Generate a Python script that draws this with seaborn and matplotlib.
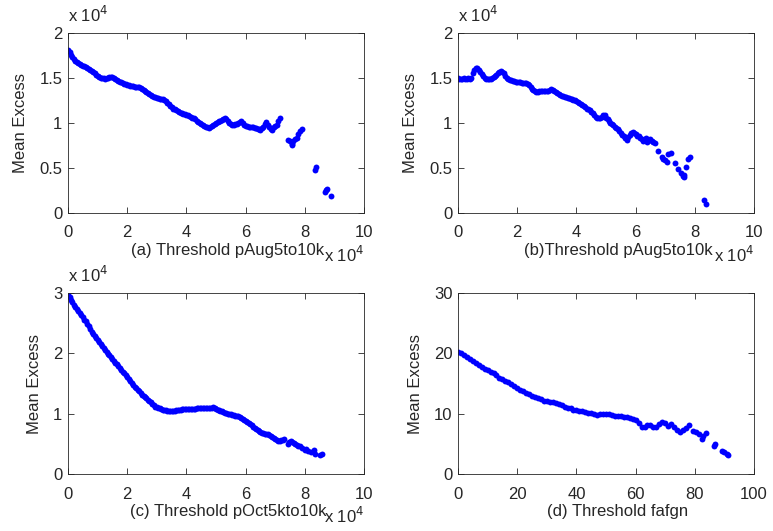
import pandas as pd
import seaborn as sns
import matplotlib.pyplot as plt

# values (x and y in units of 1e4 for panels a-c)
a_x = [0.00, 0.05, 0.10, 0.15, 0.20, 0.25, 0.30, 0.35, 0.40, 0.45, 0.50, 0.55, 0.60, 0.65, 0.70, 0.75, 0.80, 0.85, 0.90, 0.95,
       1.00, 1.05, 1.10, 1.15, 1.20, 1.25, 1.30, 1.35, 1.40, 1.45, 1.50, 1.55, 1.60, 1.65, 1.70, 1.75, 1.80, 1.85, 1.90, 1.95,
       2.00, 2.05, 2.10, 2.15, 2.20, 2.25, 2.30, 2.35, 2.40, 2.45, 2.50, 2.55, 2.60, 2.65, 2.70, 2.75, 2.80, 2.85, 2.90, 2.95,
       3.00, 3.05, 3.10, 3.15, 3.20, 3.25, 3.30, 3.35, 3.40, 3.45, 3.50, 3.55, 3.60, 3.65, 3.70, 3.75, 3.80, 3.85, 3.90, 3.95,
       4.00, 4.05, 4.10, 4.15, 4.20, 4.25, 4.30, 4.35, 4.40, 4.45, 4.50, 4.55, 4.60, 4.65, 4.70, 4.75, 4.80, 4.85, 4.90, 4.95,
       5.00, 5.05, 5.10, 5.15, 5.20, 5.25, 5.30, 5.35, 5.40, 5.45, 5.50, 5.55, 5.60, 5.65, 5.70, 5.75, 5.80, 5.85, 5.90, 5.95,
       6.00, 6.05, 6.10, 6.15, 6.20, 6.25, 6.30, 6.35, 6.40, 6.45, 6.50, 6.55, 6.60, 6.65, 6.70, 6.75, 6.80, 6.85, 6.90, 6.95,
       7.00, 7.05, 7.10, 7.15,
       7.44, 7.50, 7.55, 7.58, 7.61, 7.67, 7.72, 7.78, 7.84, 7.89, 8.34, 8.38, 8.68, 8.72, 8.74, 8.87]
a_y = [1.81, 1.79, 1.76, 1.73, 1.71, 1.69, 1.68, 1.67, 1.66, 1.64, 1.63, 1.63, 1.62, 1.61, 1.60, 1.59, 1.58, 1.57, 1.55, 1.53,
       1.52, 1.51, 1.50, 1.50, 1.50, 1.49, 1.50, 1.50, 1.51, 1.51, 1.51, 1.50, 1.49, 1.48, 1.47, 1.46, 1.45, 1.44, 1.43, 1.43,
       1.42, 1.42, 1.41, 1.41, 1.41, 1.40, 1.40, 1.40, 1.40, 1.39, 1.38, 1.37, 1.36, 1.34, 1.33, 1.32, 1.31, 1.30, 1.29, 1.29,
       1.28, 1.28, 1.27, 1.27, 1.27, 1.25, 1.24, 1.22, 1.21, 1.19, 1.18, 1.16, 1.15, 1.14, 1.13, 1.12, 1.11, 1.11, 1.10, 1.10,
       1.09, 1.09, 1.08, 1.07, 1.06, 1.05, 1.04, 1.02, 1.01, 1.00, 0.99, 0.98, 0.97, 0.96, 0.95, 0.94, 0.96, 0.97, 0.98, 0.99,
       1.00, 1.01, 1.02, 1.02, 1.03, 1.04, 1.05, 1.04, 1.02, 1.00, 0.99, 0.98, 0.98, 0.99, 0.99, 1.00, 1.01, 1.02, 1.00, 0.98,
       0.97, 0.97, 0.96, 0.96, 0.955, 0.95, 0.945, 0.94, 0.935, 0.93, 0.925, 0.94, 0.96, 0.99, 1.01, 0.98, 0.95, 0.935, 0.925, 0.95,
       0.97, 0.98, 1.02, 1.06,
       0.81, 0.80, 0.75, 0.77, 0.80, 0.82, 0.83, 0.88, 0.91, 0.93, 0.48, 0.51, 0.23, 0.25, 0.265, 0.19]

b_x = [0.00, 0.05, 0.10, 0.15, 0.20, 0.25, 0.30, 0.35, 0.40, 0.45, 0.50, 0.55, 0.60, 0.65, 0.70, 0.75, 0.80, 0.85, 0.90, 0.95,
       1.00, 1.05, 1.10, 1.15, 1.20, 1.25, 1.30, 1.35, 1.40, 1.45, 1.50, 1.55, 1.60, 1.65, 1.70, 1.75, 1.80, 1.85, 1.90, 1.95,
       2.00, 2.05, 2.10, 2.15, 2.20, 2.25, 2.30, 2.35, 2.40, 2.45, 2.50, 2.55, 2.60, 2.65, 2.70, 2.75, 2.80, 2.85, 2.90, 2.95,
       3.00, 3.05, 3.10, 3.15, 3.20, 3.25, 3.30, 3.35, 3.40, 3.45, 3.50, 3.55, 3.60, 3.65, 3.70, 3.75, 3.80, 3.85, 3.90, 3.95,
       4.00, 4.05, 4.10, 4.15, 4.20, 4.25, 4.30, 4.35, 4.40, 4.45, 4.50, 4.55, 4.60, 4.65, 4.70, 4.75, 4.80, 4.85, 4.90, 4.95,
       5.00, 5.05, 5.10, 5.15, 5.20, 5.25, 5.30, 5.35, 5.40, 5.45, 5.50, 5.55, 5.60, 5.65, 5.70, 5.75, 5.80, 5.85, 5.90, 5.95,
       6.00, 6.05, 6.10, 6.15, 6.20, 6.25, 6.30, 6.35, 6.40, 6.45, 6.50, 6.55, 6.60, 6.65,
       6.77, 6.88, 6.93, 6.99, 7.05, 7.10, 7.19, 7.33, 7.44, 7.52, 7.59, 7.62, 7.64, 7.70, 7.78, 7.84, 8.31, 8.38]
b_y = [1.50, 1.49, 1.49, 1.49, 1.50, 1.49, 1.49, 1.50, 1.49, 1.50, 1.55, 1.59, 1.61, 1.61, 1.59, 1.57, 1.54, 1.52, 1.50, 1.49,
       1.49, 1.49, 1.49, 1.50, 1.51, 1.52, 1.53, 1.55, 1.57, 1.58, 1.57, 1.55, 1.52, 1.50, 1.49, 1.48, 1.48, 1.47, 1.47, 1.46,
       1.46, 1.45, 1.45, 1.44, 1.44, 1.44, 1.44, 1.43, 1.42, 1.40, 1.38, 1.37, 1.35, 1.34, 1.34, 1.35, 1.35, 1.35, 1.36, 1.36,
       1.36, 1.36, 1.37, 1.38, 1.37, 1.36, 1.34, 1.33, 1.32, 1.31, 1.30, 1.30, 1.29, 1.29, 1.28, 1.28, 1.27, 1.27, 1.26, 1.25,
       1.24, 1.23, 1.22, 1.21, 1.20, 1.19, 1.18, 1.16, 1.15, 1.14, 1.12, 1.11, 1.09, 1.07, 1.06, 1.055, 1.06, 1.07, 1.09, 1.09,
       1.06, 1.04, 1.02, 1.00, 0.99, 0.98, 0.96, 0.94, 0.93, 0.91, 0.89, 0.87, 0.85, 0.83, 0.81, 0.84, 0.87, 0.89, 0.90, 0.89,
       0.88, 0.86, 0.85, 0.83, 0.82, 0.80, 0.82, 0.83, 0.79, 0.81, 0.82, 0.80, 0.79, 0.78,
       0.69, 0.62, 0.60, 0.59, 0.57, 0.655, 0.67, 0.56, 0.485, 0.44, 0.41, 0.40, 0.42, 0.51, 0.60, 0.62, 0.14, 0.10]

c_x = [0.00, 0.05, 0.10, 0.15, 0.20, 0.25, 0.30, 0.35, 0.40, 0.45, 0.50, 0.55, 0.60, 0.65, 0.70, 0.75, 0.80, 0.85, 0.90, 0.95,
       1.00, 1.05, 1.10, 1.15, 1.20, 1.25, 1.30, 1.35, 1.40, 1.45, 1.50, 1.55, 1.60, 1.65, 1.70, 1.75, 1.80, 1.85, 1.90, 1.95,
       2.00, 2.05, 2.10, 2.15, 2.20, 2.25, 2.30, 2.35, 2.40, 2.45, 2.50, 2.55, 2.60, 2.65, 2.70, 2.75, 2.80, 2.85, 2.90, 2.95,
       3.00, 3.05, 3.10, 3.15, 3.20, 3.25, 3.30, 3.35, 3.40, 3.45, 3.50, 3.55, 3.60, 3.65, 3.70, 3.75, 3.80, 3.85, 3.90, 3.95,
       4.00, 4.05, 4.10, 4.15, 4.20, 4.25, 4.30, 4.35, 4.40, 4.45, 4.50, 4.55, 4.60, 4.65, 4.70, 4.75, 4.80, 4.85, 4.90, 4.95,
       5.00, 5.05, 5.10, 5.15, 5.20, 5.25, 5.30, 5.35, 5.40, 5.45, 5.50, 5.55, 5.60, 5.65, 5.70, 5.75, 5.80, 5.85, 5.90, 5.95,
       6.00, 6.05, 6.10, 6.15, 6.20, 6.25, 6.30, 6.35, 6.40, 6.45, 6.50, 6.55, 6.60, 6.65, 6.70, 6.75, 6.80, 6.85, 6.90, 6.95,
       7.00, 7.05, 7.10, 7.15, 7.20, 7.25, 7.30,
       7.44, 7.48, 7.52, 7.56, 7.62, 7.67, 7.72, 7.78, 7.84, 7.90, 8.01, 8.05, 8.12, 8.20, 8.31, 8.34, 8.51, 8.57]
c_y = [2.97, 2.93, 2.89, 2.85, 2.81, 2.77, 2.74, 2.70, 2.67, 2.63, 2.60, 2.56, 2.53, 2.49, 2.45, 2.40, 2.35, 2.32, 2.29, 2.26,
       2.22, 2.19, 2.16, 2.12, 2.09, 2.05, 2.02, 1.99, 1.97, 1.94, 1.91, 1.88, 1.85, 1.82, 1.79, 1.76, 1.73, 1.70, 1.67, 1.64,
       1.61, 1.58, 1.55, 1.51, 1.48, 1.45, 1.43, 1.40, 1.37, 1.35, 1.32, 1.30, 1.28, 1.26, 1.23, 1.21, 1.19, 1.16, 1.14, 1.12,
       1.11, 1.10, 1.09, 1.08, 1.07, 1.065, 1.06, 1.055, 1.05, 1.05, 1.05, 1.05, 1.055, 1.06, 1.065, 1.07, 1.07, 1.075, 1.075, 1.08,
       1.08, 1.08, 1.08, 1.085, 1.085, 1.085, 1.085, 1.09, 1.09, 1.09, 1.09, 1.09, 1.09, 1.095, 1.095, 1.10, 1.10, 1.10, 1.11, 1.10,
       1.08, 1.07, 1.06, 1.05, 1.04, 1.03, 1.02, 1.01, 1.00, 0.995, 0.99, 0.985, 0.98, 0.97, 0.965, 0.96, 0.95, 0.93, 0.91, 0.89,
       0.88, 0.86, 0.85, 0.83, 0.81, 0.79, 0.77, 0.75, 0.73, 0.71, 0.70, 0.69, 0.68, 0.67, 0.665, 0.66, 0.65, 0.63, 0.62, 0.60,
       0.59, 0.57, 0.55, 0.555, 0.56, 0.57, 0.575,
       0.50, 0.53, 0.55, 0.54, 0.52, 0.50, 0.49, 0.47, 0.46, 0.43, 0.40, 0.41, 0.38, 0.36, 0.40, 0.33, 0.31, 0.34]

d_x = [0, 1, 2, 3, 4, 5, 6, 7, 8, 9, 10, 11, 12, 13, 14, 15, 16, 17, 18, 19,
       20, 21, 22, 23, 24, 25, 26, 27, 28, 29, 30, 31, 32, 33, 34, 35, 36, 37, 38, 39,
       40, 41, 42, 43, 44, 45, 46, 47, 48, 49, 50, 51, 52, 53, 54, 55, 56, 57, 58, 59,
       60, 61, 62, 63, 64, 65, 66, 67, 68, 69, 70, 71, 72, 73, 74, 75, 76, 77, 78,
       79.3, 80.4, 81.5, 82.3, 82.9, 83.8, 86.5, 86.8, 89.1, 89.9, 90.8, 91.3]
d_y = [20.3, 20.0, 19.7, 19.4, 19.1, 18.8, 18.4, 18.1, 17.8, 17.5, 17.2, 16.9, 16.7, 16.4, 16.0, 15.7, 15.4, 15.2, 14.9, 14.6,
       14.3, 14.0, 13.8, 13.5, 13.3, 13.0, 12.8, 12.6, 12.4, 12.2, 12.1, 12.0, 12.0, 11.8, 11.6, 11.4, 11.2, 11.0, 10.9, 10.7,
       10.6, 10.5, 10.4, 10.3, 10.2, 10.1, 10.0, 9.8, 9.9, 10.0, 10.0, 9.9, 9.8, 9.7, 9.6, 9.6, 9.5, 9.4, 9.3, 9.1,
       8.9, 8.5, 7.9, 7.8, 8.2, 8.2, 7.8, 7.9, 8.3, 8.6, 8.4, 8.0, 8.3, 7.8, 7.4, 7.0, 7.4, 7.6, 8.1,
       7.2, 7.0, 6.6, 5.9, 6.3, 6.85, 4.6, 4.95, 3.8, 3.7, 3.3, 3.15]

labels = ['(a) Threshold pAug5to10k', '(b)Threshold pAug5to10k',
          '(c) Threshold pOct5kto10k', '(d) Threshold fafgn']

sns.set_style('ticks')
plt.rcParams['font.family'] = ['Liberation Sans', 'DejaVu Sans']
plt.rcParams['font.size'] = 12

fig = plt.figure(figsize=(7.73, 5.31), dpi=100)
boxes = [[0.088, 0.599, 0.383, 0.339], [0.5925, 0.599, 0.383, 0.339],
         [0.088, 0.107, 0.383, 0.341], [0.5925, 0.107, 0.383, 0.341]]
series = [(a_x, a_y), (b_x, b_y), (c_x, c_y), (d_x, d_y)]
xlims = [10, 10, 10, 100]
ylims = [2, 2, 3, 30]
yticks = [[0, 0.5, 1, 1.5, 2], [0, 0.5, 1, 1.5, 2], [0, 1, 2, 3], [0, 10, 20, 30]]
xticks = [[0, 2, 4, 6, 8, 10]] * 3 + [[0, 20, 40, 60, 80, 100]]

for i in range(4):
    ax = fig.add_axes(boxes[i])
    df = pd.DataFrame({'x': series[i][0], 'y': series[i][1]})
    sns.scatterplot(data=df, x='x', y='y', ax=ax, color='#0000ff', s=18,
                    linewidth=0, marker='o')
    ax.set_xlim(0, xlims[i])
    ax.set_ylim(0, ylims[i])
    ax.set_xticks(xticks[i])
    ax.set_yticks(yticks[i])
    ax.set_xticklabels([f'{v:g}' for v in xticks[i]])
    ax.set_yticklabels([f'{v:g}' for v in yticks[i]])
    ax.tick_params(direction='in', top=True, right=True, length=4, width=0.6,
                   labelsize=12)
    ax.tick_params(axis='x', pad=9)
    ax.tick_params(axis='y', pad=4)
    for sp in ax.spines.values():
        sp.set_linewidth(0.6)
    ax.set_ylabel('Mean Excess', fontsize=12, labelpad=8)
    ax.set_xlabel(labels[i], fontsize=12)
    ax.xaxis.set_label_coords(0.54, -0.165)
    ax.xaxis.label.set_va('top')
    if i < 3:
        ax.text(0.0, 1.045, r'x 10$^4$', transform=ax.transAxes, ha='left', va='bottom', fontsize=12)
        ax.text(1.0, -0.27, r'x 10$^4$', transform=ax.transAxes, ha='right', va='baseline', fontsize=12)

fig.savefig('out.png', dpi=100)
